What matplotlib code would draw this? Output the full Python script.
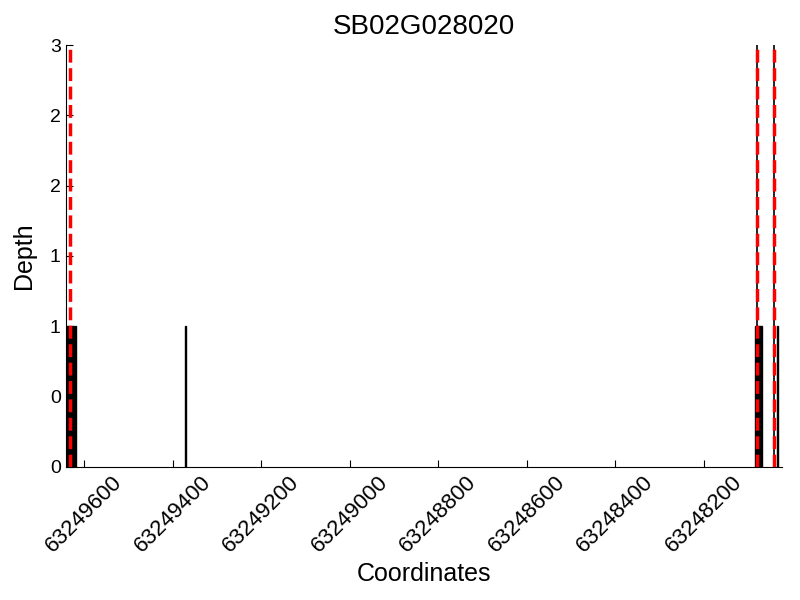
import matplotlib
matplotlib.use('Agg')
import matplotlib.pyplot as plt
from matplotlib.ticker import FormatStrFormatter

plt.rcParams['font.family'] = ['Liberation Sans', 'DejaVu Sans']

gene = 'SB02G028020'

# covered segments (start, end coordinate) and their depth
seg_start = [63249639, 63249620, 63249372, 63248084, 63248034]
seg_end = [63249623, 63249618, 63249371, 63248069, 63248033]
seg_depth = [1, 1, 1, 1, 1]

# boundary markers
red_lines = [63249633, 63248080, 63248041]
black_lines = [63248080, 63248041]

xticks = [63249600, 63249400, 63249200, 63249000, 63248800, 63248600, 63248400, 63248200]
yticks = [0, 0.5, 1, 1.5, 2, 2.5, 3]

fig = plt.figure(figsize=(8, 6), dpi=100)
ax = fig.add_axes([0.082, 0.222, 0.896, 0.703])

for s, e, d in zip(seg_start, seg_end, seg_depth):
    ax.bar(e, d, width=s - e, align='edge', color='black', edgecolor='black', linewidth=1)

for x in black_lines:
    ax.axvline(x, color='black', linewidth=1.2)
for x in red_lines:
    ax.axvline(x, color='red', linestyle='--', linewidth=2.5)

ax.set_xlim(63249642, 63248022)
ax.set_ylim(0, 3)
ax.set_xticks(xticks)
ax.set_xticklabels([str(t) for t in xticks], rotation=45, ha='center', fontsize=16)
ax.set_yticks(yticks)
ax.yaxis.set_major_formatter(FormatStrFormatter('%d'))
ax.tick_params(direction='in', length=5)
ax.tick_params(axis='y', labelsize=14)

ax.spines['top'].set_visible(False)
ax.spines['right'].set_visible(False)

ax.set_title(gene, fontsize=20, pad=8)
ax.set_xlabel('Coordinates', fontsize=18, labelpad=4)
ax.set_ylabel('Depth', fontsize=18, labelpad=10)

fig.savefig('out.png', dpi=100)
